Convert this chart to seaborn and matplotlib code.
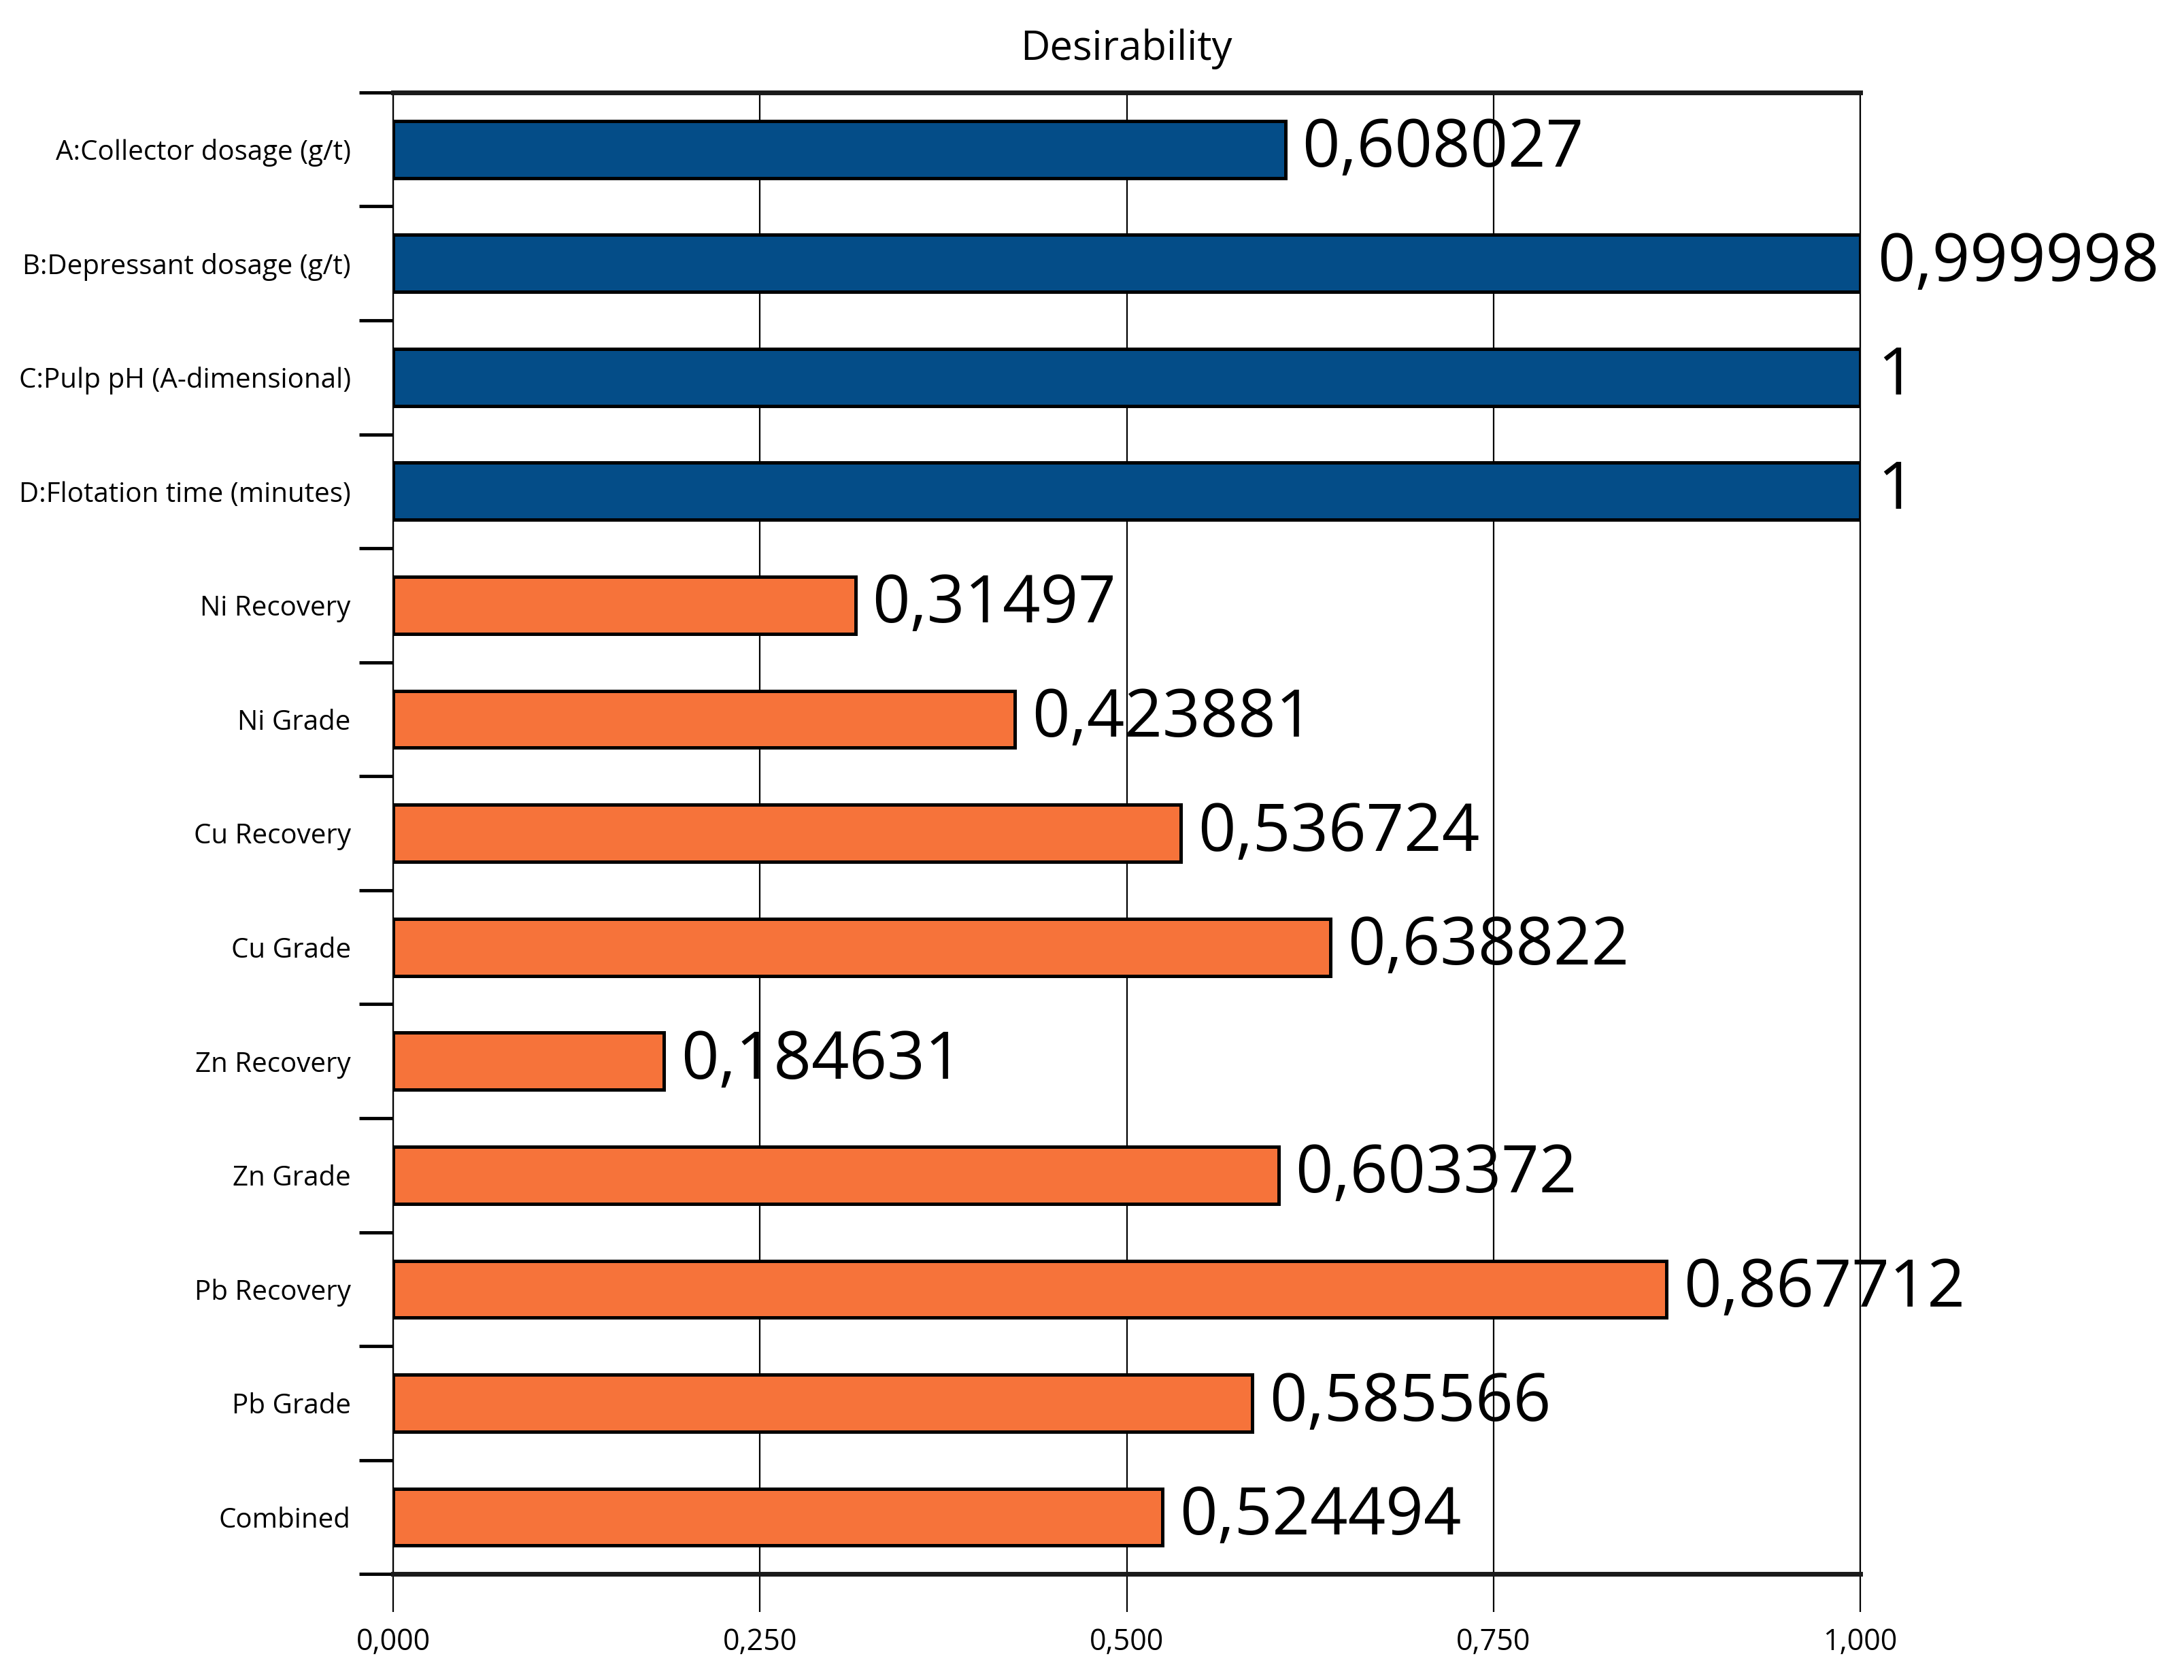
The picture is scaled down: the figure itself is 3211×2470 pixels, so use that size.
import matplotlib
matplotlib.use("Agg")
import matplotlib.pyplot as plt
import seaborn as sns
import numpy as np
import pandas as pd
from matplotlib.ticker import FuncFormatter, FixedLocator

# ---- data ----
categories = [
    "A:Collector dosage (g/t)",
    "B:Depressant dosage (g/t)",
    "C:Pulp pH (A-dimensional)",
    "D:Flotation time (minutes)",
    "Ni Recovery",
    "Ni Grade",
    "Cu Recovery",
    "Cu Grade",
    "Zn Recovery",
    "Zn Grade",
    "Pb Recovery",
    "Pb Grade",
    "Combined",
]
values = [0.608027, 0.999998, 1.0, 1.0, 0.31497, 0.423881, 0.536724,
          0.638822, 0.184631, 0.603372, 0.867712, 0.585566, 0.524494]
groups = ["factor"] * 4 + ["response"] * 9
x_ticks = [0.0, 0.25, 0.5, 0.75, 1.0]
title = "Desirability"

group_colors = {"factor": "#044d88", "response": "#f6733a"}

sns.set_theme(style="white")
plt.rcParams["font.family"] = ["Open Sans", "DejaVu Sans"]

df = pd.DataFrame({"cat": categories, "val": values, "grp": groups})

fig = plt.figure(figsize=(32.12, 24.70), dpi=100)
ax = fig.add_axes([0.180, 0.063, 0.6715, 0.882])

sns.barplot(data=df, x="val", y="cat", hue="grp", palette=group_colors,
            orient="h", width=0.5, dodge=False, legend=False, saturation=1,
            edgecolor="black", linewidth=3.6, ax=ax, zorder=3)

ax.set_xlim(0, 1.0)
ax.set_ylim(len(categories) - 0.5, -0.5)
ax.set_xlabel("")
ax.set_ylabel("")

# gridlines
ax.set_axisbelow(True)
ax.xaxis.set_major_locator(FixedLocator(x_ticks))
ax.xaxis.grid(True, color="black", linewidth=1.6)
ax.yaxis.grid(False)

ax.xaxis.set_major_formatter(FuncFormatter(lambda v, p: f"{v:.3f}".replace(".", ",")))
ax.tick_params(axis="x", direction="out", length=40, width=1.6, color="black",
               labelsize=31, pad=16, bottom=True, labelcolor="black")

# y: labels at centers without tick marks; tick marks at boundaries
ax.yaxis.set_major_locator(FixedLocator(np.arange(len(categories))))
ax.set_yticklabels(categories)
ax.tick_params(axis="y", which="major", length=0, labelsize=29, pad=45,
               labelcolor="black")
ax.yaxis.set_minor_locator(FixedLocator(np.arange(-0.5, len(categories), 1.0)))
ax.tick_params(axis="y", which="minor", left=True, direction="out", length=36,
               width=3.5, color="black")

for side in ["left", "right"]:
    ax.spines[side].set_visible(True)
    ax.spines[side].set_color("black")
    ax.spines[side].set_linewidth(1.6)
for side in ["top", "bottom"]:
    ax.spines[side].set_visible(True)
    ax.spines[side].set_color("#1a1a1a")
    ax.spines[side].set_linewidth(5)

# value labels
for container in ax.containers:
    labels = []
    for bar in container:
        w = bar.get_width()
        if np.isnan(w) or bar.get_height() == 0:
            labels.append("")
        else:
            labels.append(f"{w:g}".replace(".", ","))
    ax.bar_label(container, labels=labels, padding=18, fontsize=70, color="black")

fig.text(0.5155, 0.971, title, ha="center", va="center", fontsize=43, color="black")

fig.savefig("out.png", dpi=100, facecolor="white")
